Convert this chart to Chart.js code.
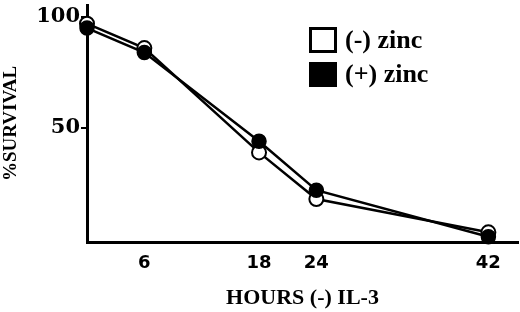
<!DOCTYPE html>
<html>
<head>
<meta charset="utf-8">
<script src="https://cdn.jsdelivr.net/npm/chart.js@4"></script>
<style>
  html, body { margin: 0; padding: 0; background: #fff; }
  #wrap { width: 520px; height: 312px; position: relative; }
</style>
</head>
<body>
<div id="wrap"><canvas id="chart"></canvas></div>
<script>
const hours = [0, 6, 18, 24, 42];
const minusZinc = [97, 86, 39, 18, 3];
const plusZinc = [95, 84, 44, 22, 1];
const xTicks = [6, 18, 24, 42];
const yTicks = [50, 100];
const seriesLabels = ["(-) zinc", "(+) zinc"];

const serif = "'Liberation Serif', 'DejaVu Serif', serif";
const sans = "'DejaVu Sans', sans-serif";

// legend drawn inside the plot, top right
const boxLegend = {
  id: "boxLegend",
  afterDraw(chart) {
    const ctx = chart.ctx;
    ctx.save();
    ctx.font = "bold 26px " + serif;
    ctx.textBaseline = "middle";
    ctx.fillStyle = "#000";
    ctx.lineWidth = 3;
    ctx.strokeStyle = "#000";
    ctx.strokeRect(310.5, 28.5, 25, 23);
    ctx.fillText(seriesLabels[0], 345, 41);
    ctx.fillRect(309, 62, 28, 25);
    ctx.fillText(seriesLabels[1], 345, 75);
    ctx.restore();
  }
};

new Chart(document.getElementById("chart"), {
  type: "line",
  data: {
    datasets: [
      {
        label: seriesLabels[1],
        data: hours.map((h, i) => ({ x: h, y: plusZinc[i] })),
        borderColor: "#000",
        borderWidth: 2.5,
        pointRadius: 7,
        pointBackgroundColor: "#000",
        pointBorderColor: "#000",
        pointBorderWidth: 1.5,
        tension: 0,
        order: 0
      },
      {
        label: seriesLabels[0],
        data: hours.map((h, i) => ({ x: h, y: minusZinc[i] })),
        borderColor: "#000",
        borderWidth: 2.5,
        pointRadius: 7,
        pointBackgroundColor: "#fff",
        pointBorderColor: "#000",
        pointBorderWidth: 2,
        tension: 0,
        order: 1
      }
    ]
  },
  options: {
    responsive: true,
    maintainAspectRatio: false,
    animation: false,
    clip: false,
    layout: { autoPadding: false, padding: { top: 5, right: 2, left: 0, bottom: 0 } },
    plugins: { legend: { display: false }, tooltip: { enabled: false } },
    scales: {
      x: {
        type: "linear",
        min: 0,
        max: 45.1,
        afterBuildTicks: s => { s.ticks = xTicks.map(v => ({ value: v })); },
        afterFit: s => { s.height = 70; s.paddingLeft = 0; s.paddingRight = 0; },
        grid: { display: false, drawTicks: false },
        border: { display: true, color: "#000", width: 3 },
        ticks: {
          color: "#000",
          padding: 0,
          maxRotation: 0,
          font: { family: sans, weight: "bold", size: 18, lineHeight: 2.4 }
        },
        title: {
          display: true,
          text: "HOURS (-) IL-3",
          color: "#000",
          padding: { top: 0, bottom: 0 },
          font: { family: serif, weight: "bold", size: 22 }
        }
      },
      y: {
        min: -1.35,
        max: 105.4,
        afterBuildTicks: s => { s.ticks = yTicks.map(v => ({ value: v })); },
        afterFit: s => { s.width = 87; s.paddingTop = 0; s.paddingBottom = 0; },
        grid: { drawOnChartArea: false, drawTicks: true, tickLength: 6, color: "#000", lineWidth: 2 },
        border: { display: true, color: "#000", width: 3 },
        ticks: {
          color: "#000",
          padding: 1,
          font: { family: "'DejaVu Serif', serif", weight: "bold", size: 21 }
        },
        title: {
          display: true,
          text: "%SURVIVAL",
          color: "#000",
          padding: { top: 0, bottom: 0 },
          font: { family: serif, weight: "bold", size: 19 }
        }
      }
    }
  },
  plugins: [boxLegend]
});
</script>
</body>
</html>
